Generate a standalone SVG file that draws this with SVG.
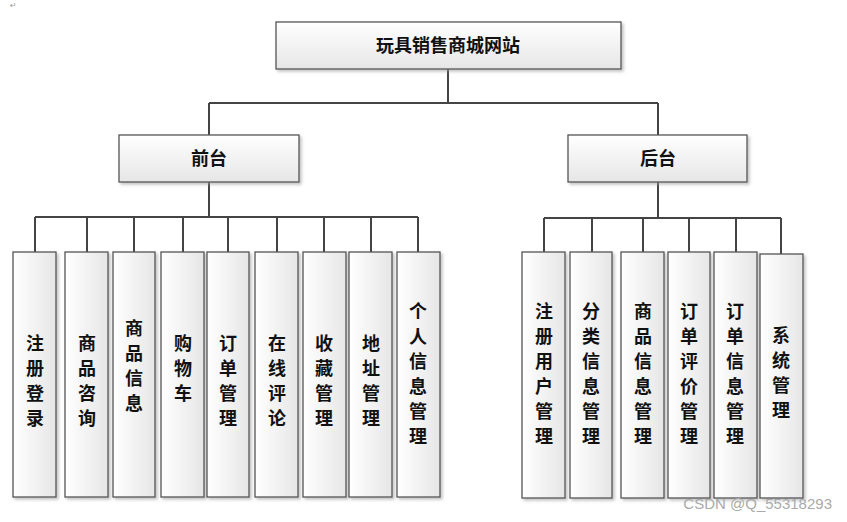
<svg xmlns="http://www.w3.org/2000/svg" width="847" height="522" viewBox="0 0 847 522">
<defs>
<linearGradient id="g" x1="0" y1="0" x2="0" y2="1"><stop offset="0" stop-color="#ffffff"/><stop offset="1" stop-color="#e6e6e6"/></linearGradient>
<linearGradient id="gv" x1="0" y1="0" x2="1" y2="0"><stop offset="0" stop-color="#ffffff"/><stop offset="1" stop-color="#e6e6e6"/></linearGradient>
<filter id="s" x="-10%" y="-10%" width="130%" height="130%"><feDropShadow dx="2" dy="2" stdDeviation="1.5" flood-color="#999" flood-opacity="0.6"/></filter>
</defs>
<style>
.b{fill:url(#g);stroke:#555;stroke-width:1.3;filter:url(#s)}
.v{fill:url(#gv);stroke:#555;stroke-width:1.3;filter:url(#s)}
.t{font-family:"Noto Sans CJK SC",sans-serif;font-weight:bold;font-size:18px;fill:#111;text-anchor:middle}
.c{stroke:#444;stroke-width:2;fill:none}
</style>
<rect width="847" height="522" fill="#fff"/>
<text x="10" y="8" font-family="DejaVu Sans,sans-serif" font-size="8" fill="#999">↵</text>
<g id="connectors">
<path class="c" d="M448 69V103M209 103H658M209 103V135M658 103V135"/>
<path class="c" d="M209 182V217" stroke-width="3.5"/>
<path class="c" d="M35 217H418M35 217V252M87 217V252M134 217V252M183 217V252M228 217V252M277 217V252M324 217V252M371 217V252M418 217V252"/>
<path class="c" d="M658 182V218" stroke-width="3"/>
<path class="c" d="M544 218H781M544 218V252M592 218V252M643 218V252M689 218V252M736 218V252M781 218V254"/>
</g>
<g id="root"><rect class="b" x="276" y="22" width="345" height="47"/><text class="t" x="448" y="52">玩具销售商城网站</text></g>
<g id="front"><rect class="b" x="119" y="135" width="180" height="47"/><text class="t" x="209" y="165">前台</text></g>
<g id="back"><rect class="b" x="568" y="135" width="179" height="47"/><text class="t" x="658" y="165">后台</text></g>
<g id="f1"><rect class="v" x="13" y="252" width="43" height="245"/><text class="t" x="35" y="350">注<tspan x="35" dy="25">册</tspan><tspan x="35" dy="25">登</tspan><tspan x="35" dy="25">录</tspan></text></g>
<g id="f2"><rect class="v" x="65" y="252" width="43" height="245"/><text class="t" x="87" y="350">商<tspan x="87" dy="25">品</tspan><tspan x="87" dy="25">咨</tspan><tspan x="87" dy="25">询</tspan></text></g>
<g id="f3"><rect class="v" x="113" y="252" width="42" height="245"/><text class="t" x="134" y="335">商<tspan x="134" dy="25">品</tspan><tspan x="134" dy="25">信</tspan><tspan x="134" dy="25">息</tspan></text></g>
<g id="f4"><rect class="v" x="161" y="252" width="43" height="245"/><text class="t" x="183" y="350">购<tspan x="183" dy="25">物</tspan><tspan x="183" dy="25">车</tspan></text></g>
<g id="f5"><rect class="v" x="207" y="252" width="42" height="245"/><text class="t" x="228" y="350">订<tspan x="228" dy="25">单</tspan><tspan x="228" dy="25">管</tspan><tspan x="228" dy="25">理</tspan></text></g>
<g id="f6"><rect class="v" x="255" y="252" width="43" height="245"/><text class="t" x="277" y="350">在<tspan x="277" dy="25">线</tspan><tspan x="277" dy="25">评</tspan><tspan x="277" dy="25">论</tspan></text></g>
<g id="f7"><rect class="v" x="303" y="252" width="43" height="245"/><text class="t" x="324" y="350">收<tspan x="324" dy="25">藏</tspan><tspan x="324" dy="25">管</tspan><tspan x="324" dy="25">理</tspan></text></g>
<g id="f8"><rect class="v" x="349" y="252" width="43" height="245"/><text class="t" x="371" y="350">地<tspan x="371" dy="25">址</tspan><tspan x="371" dy="25">管</tspan><tspan x="371" dy="25">理</tspan></text></g>
<g id="f9"><rect class="v" x="397" y="252" width="43" height="245"/><text class="t" x="418" y="318">个<tspan x="418" dy="25">人</tspan><tspan x="418" dy="25">信</tspan><tspan x="418" dy="25">息</tspan><tspan x="418" dy="25">管</tspan><tspan x="418" dy="25">理</tspan></text></g>
<g id="b1"><rect class="v" x="522" y="252" width="43" height="246"/><text class="t" x="544" y="318">注<tspan x="544" dy="25">册</tspan><tspan x="544" dy="25">用</tspan><tspan x="544" dy="25">户</tspan><tspan x="544" dy="25">管</tspan><tspan x="544" dy="25">理</tspan></text></g>
<g id="b2"><rect class="v" x="570" y="252" width="42" height="246"/><text class="t" x="591" y="318">分<tspan x="591" dy="25">类</tspan><tspan x="591" dy="25">信</tspan><tspan x="591" dy="25">息</tspan><tspan x="591" dy="25">管</tspan><tspan x="591" dy="25">理</tspan></text></g>
<g id="b3"><rect class="v" x="621" y="252" width="43" height="246"/><text class="t" x="643" y="318">商<tspan x="643" dy="25">品</tspan><tspan x="643" dy="25">信</tspan><tspan x="643" dy="25">息</tspan><tspan x="643" dy="25">管</tspan><tspan x="643" dy="25">理</tspan></text></g>
<g id="b4"><rect class="v" x="668" y="252" width="42" height="246"/><text class="t" x="689" y="318">订<tspan x="689" dy="25">单</tspan><tspan x="689" dy="25">评</tspan><tspan x="689" dy="25">价</tspan><tspan x="689" dy="25">管</tspan><tspan x="689" dy="25">理</tspan></text></g>
<g id="b5"><rect class="v" x="714" y="252" width="43" height="246"/><text class="t" x="735" y="318">订<tspan x="735" dy="25">单</tspan><tspan x="735" dy="25">信</tspan><tspan x="735" dy="25">息</tspan><tspan x="735" dy="25">管</tspan><tspan x="735" dy="25">理</tspan></text></g>
<g id="b6"><rect class="v" x="760" y="254" width="43" height="244"/><text class="t" x="781" y="342">系<tspan x="781" dy="25">统</tspan><tspan x="781" dy="25">管</tspan><tspan x="781" dy="25">理</tspan></text></g>
<text x="832" y="509" font-family="Liberation Sans,sans-serif" font-size="15" fill="#aaa" text-anchor="end">CSDN @Q_55318293</text>
</svg>
